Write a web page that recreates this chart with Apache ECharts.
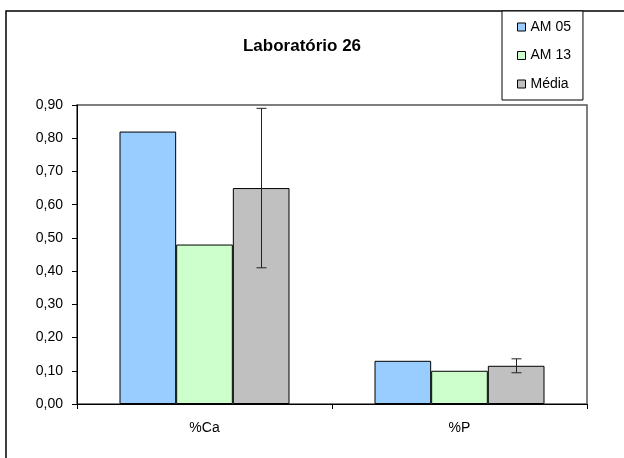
<!DOCTYPE html>
<html>
<head>
<meta charset="utf-8">
<script src="https://cdn.jsdelivr.net/npm/echarts@6/dist/echarts.min.js"></script>
<style>
html,body{margin:0;padding:0;background:#fff;}
#chart{width:624px;height:458px;}
</style>
</head>
<body>
<div id="chart"></div>
<script>
const titleText = 'Laboratório 26';
const categories = ['%Ca', '%P'];
const seriesNames = ['AM 05', 'AM 13', 'Média'];
const am05 = [0.82, 0.13];
const am13 = [0.48, 0.10];
const media = [0.65, 0.115];
const mediaErr = [0.24, 0.021];
const yTicks = { min: 0, max: 0.9, interval: 0.1 };

const colors = ['#99CCFF', '#CCFFCC', '#C0C0C0'];
const font = '"Liberation Sans", Arial, sans-serif';
const gapRatio = 1 / 3;

const chart = echarts.init(document.getElementById('chart'), null, { renderer: 'canvas' });

const barStyle = (c) => ({ color: c, borderColor: '#000', borderWidth: 1 });

const errData = categories.map((c, i) => [i, media[i] - mediaErr[i], media[i] + mediaErr[i]]);

chart.setOption({
  animation: false,
  backgroundColor: '#fff',
  graphic: [
    { type: 'rect', shape: { x: 6, y: 11, width: 700, height: 600 }, style: { fill: 'none', stroke: '#000', lineWidth: 1.5 }, z: 0 },
    { type: 'text', x: 302, y: 46, style: { text: titleText, font: 'bold 17px ' + font, fill: '#000', textAlign: 'center', textVerticalAlign: 'middle' }, z: 10 }
  ],
  legend: {
    orient: 'vertical',
    left: 502,
    top: 11,
    padding: [9, 12, 9, 15],
    itemWidth: 8,
    itemHeight: 8,
    itemGap: 14.5,
    borderColor: '#000',
    borderWidth: 1,
    backgroundColor: '#fff',
    textStyle: { fontFamily: font, fontSize: 14, color: '#000' },
    data: seriesNames.map((n, i) => ({ name: n, icon: 'rect', itemStyle: { color: colors[i], borderColor: '#000', borderWidth: 1 } }))
  },
  grid: {
    left: 77, right: 37, top: 105, bottom: 54,
    show: true, borderColor: '#555', borderWidth: 1.5, backgroundColor: '#fff',
    containLabel: false
  },
  xAxis: {
    type: 'category',
    data: categories,
    axisLine: { lineStyle: { color: '#000', width: 1 } },
    axisTick: { show: true, length: 5, inside: false, lineStyle: { color: '#000' } },
    axisLabel: { fontFamily: font, fontSize: 14, color: '#000', margin: 17 }
  },
  yAxis: {
    type: 'value',
    min: yTicks.min, max: yTicks.max, interval: yTicks.interval,
    axisLine: { show: true, lineStyle: { color: '#000', width: 1 } },
    axisTick: { show: true, length: 5, lineStyle: { color: '#000' } },
    splitLine: { show: false },
    axisLabel: {
      fontFamily: font, fontSize: 14, color: '#000', margin: 14,
      formatter: (v) => v.toFixed(2).replace('.', ',')
    }
  },
  series: [
    { name: seriesNames[0], type: 'bar', data: am05, barGap: '0%', barCategoryGap: (gapRatio * 100) + '%', itemStyle: barStyle(colors[0]) },
    { name: seriesNames[1], type: 'bar', data: am13, barGap: '0%', barCategoryGap: (gapRatio * 100) + '%', itemStyle: barStyle(colors[1]) },
    { name: seriesNames[2], type: 'bar', data: media, barGap: '0%', barCategoryGap: (gapRatio * 100) + '%', itemStyle: barStyle(colors[2]) },
    {
      name: 'err', type: 'custom', data: errData, z: 10, silent: true,
      renderItem: function (params, api) {
        const idx = api.value(0);
        const lo = api.coord([idx, api.value(1)]);
        const hi = api.coord([idx, api.value(2)]);
        const catW = api.size([1, 0])[0];
        const bw = catW * (1 - gapRatio) / 3;
        const x = Math.round(lo[0] + bw) + 0.5;
        const cap = 5;
        const st = { stroke: '#222', lineWidth: 1 };
        return {
          type: 'group',
          children: [
            { type: 'line', shape: { x1: x, y1: hi[1], x2: x, y2: lo[1] }, style: st },
            { type: 'line', shape: { x1: x - cap, y1: hi[1], x2: x + cap, y2: hi[1] }, style: st },
            { type: 'line', shape: { x1: x - cap, y1: lo[1], x2: x + cap, y2: lo[1] }, style: st }
          ]
        };
      }
    }
  ]
});
</script>
</body>
</html>
